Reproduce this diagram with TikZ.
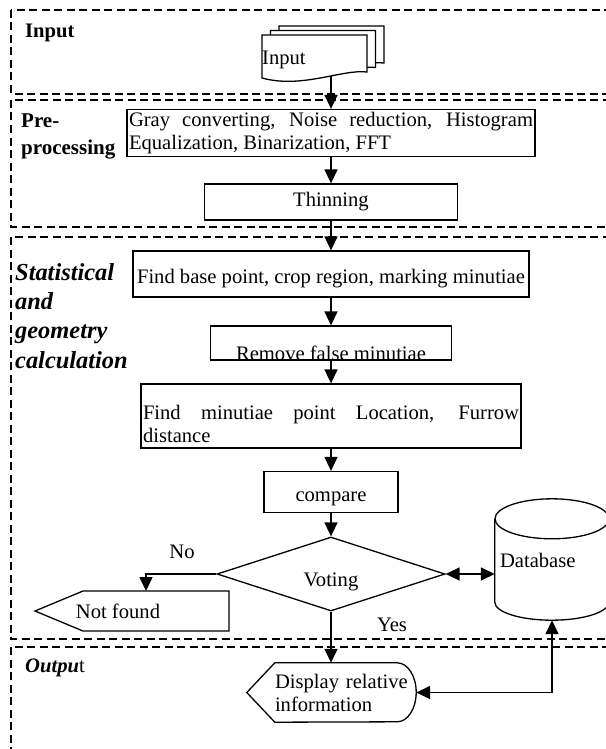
\documentclass[tikz,border=0pt]{standalone}
\usepackage{fontspec}
\setmainfont{Liberation Serif}
\usetikzlibrary{positioning, shapes.geometric, arrows.meta}
\tolerance=10000
\hbadness=10000
\hyphenpenalty=10000
\exhyphenpenalty=10000

\newcommand{\bodysize}{\fontsize{20.6pt}{23pt}\selectfont}
\newcommand{\stagesize}{\fontsize{24.4pt}{29.3pt}\selectfont}

\begin{document}
\begin{tikzpicture}[x=1pt, y=-1pt,
  every node/.style={font=\bodysize},
  procbox/.style={draw, line width=1.3pt, inner sep=2pt},
  region/.style={draw, line width=1.3pt, dash pattern=on 8pt off 4.5pt},
  shapeline/.style={line width=1.3pt},
  stage/.style={anchor=west, inner sep=0, align=left},
  flow/.style={line width=1.6pt, -{Triangle[length=14pt, width=13pt]}},
  flowboth/.style={line width=1.6pt, {Triangle[length=14pt, width=13pt]}-{Triangle[length=14pt, width=13pt]}}]
\useasboundingbox (0,0) rectangle (605,749);

% Stage regions
\draw[region] (11,10) rectangle (640,94);
\draw[region] (11,100) rectangle (640,227);
\draw[region] (11,237) rectangle (640,639);
\draw[region] (11,647) rectangle (640,780);

% Stage labels
\node[stage, font=\bodysize\bfseries] (inputstage) at (25,33) {Input};
\node[stage, font=\fontsize{21pt}{27pt}\selectfont\bfseries] (prestage) at (21,136.5) {Pre-\\processing};
\node[stage, font=\stagesize\bfseries\itshape] (calcstage) at (15,316) {Statistical\\and\\geometry\\calculation};
\node[stage] (outputstage) at (25,668) {\textbf{\textit{Outpu}}t};

% Input documents
\foreach \k in {2,1,0}
  \draw[shapeline, fill=white, shift={(8.5*\k,-4.5*\k)}] (262,35) -- (367,35) -- (367,72) .. controls (342,69) and (302,89) .. (262,78) -- cycle;
\node[anchor=west, inner sep=0] (input) at (262,60) {Input};
\coordinate (docbottom) at (331,76);

% Process steps
\node[procbox, text width=404pt, align=justify, minimum height=47pt] (gray) at (331,133) {Gray converting, Noise reduction, Histogram Equalization, Binarization, FFT};
\node[procbox, minimum width=253pt, minimum height=36pt] (thin) at (331,202) {Thinning};
\node[procbox, minimum width=396pt, minimum height=46pt, label={[yshift=-5pt]center:Find base point, crop region, marking minutiae}] (base) at (331,274) {};
\node[procbox, minimum width=241pt, minimum height=34pt, label={[yshift=-10pt]center:Remove false minutiae}] (remove) at (331,343) {};
\node[procbox, minimum width=380pt, minimum height=64pt, label={[yshift=-8pt, text width=376pt, align=justify]center:Find minutiae point Location, Furrow distance}] (loc) at (331,416) {};
\node[procbox, minimum width=134pt, minimum height=41pt, label={[yshift=-7pt]center:compare}] (compare) at (331,492) {};
\node[diamond, draw, line width=1.3pt, inner sep=0, minimum width=228pt, minimum height=74pt, label={[yshift=-8pt]center:Voting}] (voting) at (331,574) {};

% Not found
\draw[shapeline] (83,591) -- (229,591) -- (229,631) -- (83,631) -- (35,611) -- cycle;
\node (notfound) at (118,611) {Not found};
\coordinate (nftop) at (146,591);

% Display
\node[inner sep=0, minimum width=141pt, minimum height=59pt, text width=141pt, align=left] (display) at (345.5,692.5) {Display relative\\information};
\draw[shapeline] (display.north west) -- ([xshift=-19pt]display.north east) arc[start angle=90, end angle=-90, x radius=19pt, y radius=29.5pt] -- (display.south west) -- ([xshift=-28pt]display.west) -- cycle;

% Database
\node[inner xsep=5pt, minimum width=114pt, minimum height=83pt, text width=104pt, align=left] (db) at (552,560.5) {Database};
\draw[shapeline] (db.north west) -- (db.south west) arc[start angle=180, end angle=360, x radius=57pt, y radius=18pt] -- (db.north east);
\draw[shapeline] (db.north) ellipse [x radius=57pt, y radius=20pt];
\coordinate (dbbase) at ([yshift=-18pt]db.south);

% Branch labels
\node (no) at (182,552) {No};
\node (yes) at (392,625) {Yes};

% Arrows
\draw[flow] (docbottom) -- (gray);
\draw[flow] (gray) -- (thin);
\draw[flow] (thin) -- (base);
\draw[flow] (base) -- (remove);
\draw[flow] (remove) -- (loc);
\draw[flow] (loc) -- (compare);
\draw[flow] (compare) -- (voting);
\draw[flow] (voting.south) -- (voting.south |- display.north);
\draw[flow] (voting.west) -| (nftop);
\draw[flowboth] (voting.east) -- (voting.east -| db.west);
\draw[flowboth] (display.east) -| (dbbase);
\end{tikzpicture}
\end{document}
